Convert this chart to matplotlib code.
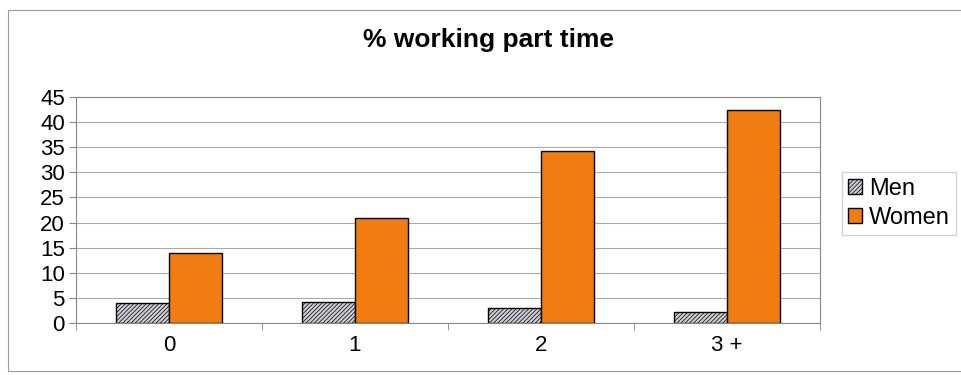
import matplotlib
matplotlib.use("Agg")
import matplotlib.pyplot as plt
import numpy as np
from matplotlib.patches import Rectangle

plt.rcParams['font.family'] = ['Liberation Sans', 'DejaVu Sans']
plt.rcParams['hatch.color'] = '#b0b0b6'
plt.rcParams['hatch.linewidth'] = 0.5

categories = ["0", "1", "2", "3 +"]
men = [4.0, 4.2, 3.0, 2.2]
women = [14.0, 20.9, 34.3, 42.4]
yticks = [0, 5, 10, 15, 20, 25, 30, 35, 40, 45]

fig = plt.figure(figsize=(9.62, 3.75), dpi=100)
fig.patch.set_facecolor('white')

# outer chart frame
fig.add_artist(Rectangle((0.008, 0.012), 1.2, 0.962, transform=fig.transFigure,
                         fill=False, edgecolor='#9a9aa8', linewidth=0.8))

ax = fig.add_axes([0.079, 0.139, 0.773, 0.602])
x = np.arange(len(categories))
w = 0.285
ax.bar(x - w / 2, men, w, color='#cdcdd2', edgecolor='black', linewidth=1.0,
       hatch='////////', label='Men', zorder=3)
ax.bar(x + w / 2, women, w, color='#f07c12', edgecolor='black', linewidth=1.0,
       label='Women', zorder=3)

ax.set_xlim(-0.5, len(categories) - 0.5)
ax.set_ylim(0, 45)
ax.set_yticks(yticks)
ax.set_yticklabels([str(t) for t in yticks], fontsize=16)
ax.set_xticks(x)
ax.set_xticklabels(categories, fontsize=16)
ax.set_xticks(np.arange(len(categories) + 1) - 0.5, minor=True)
ax.tick_params(axis='x', which='major', length=0, pad=9)
ax.tick_params(axis='x', which='minor', length=5, color='#888888')
ax.tick_params(axis='y', length=5, color='#888888', pad=3)
ax.yaxis.grid(True, color='#a8a8b8', linewidth=0.8, zorder=0)
for s in ax.spines.values():
    s.set_color('#888888')
    s.set_linewidth(0.8)

fig.text(0.508, 0.893, "% working part time", fontsize=19, fontweight='bold',
         ha='center', va='center')

leg = ax.legend(loc='center left', bbox_to_anchor=(1.03, 0.53), fontsize=17,
                frameon=True, fancybox=False, edgecolor='#c8c8c8',
                handlelength=0.6, handleheight=0.6, handletextpad=0.3,
                borderpad=0.25, labelspacing=0.3, borderaxespad=0)

fig.savefig("out.png", dpi=100)
